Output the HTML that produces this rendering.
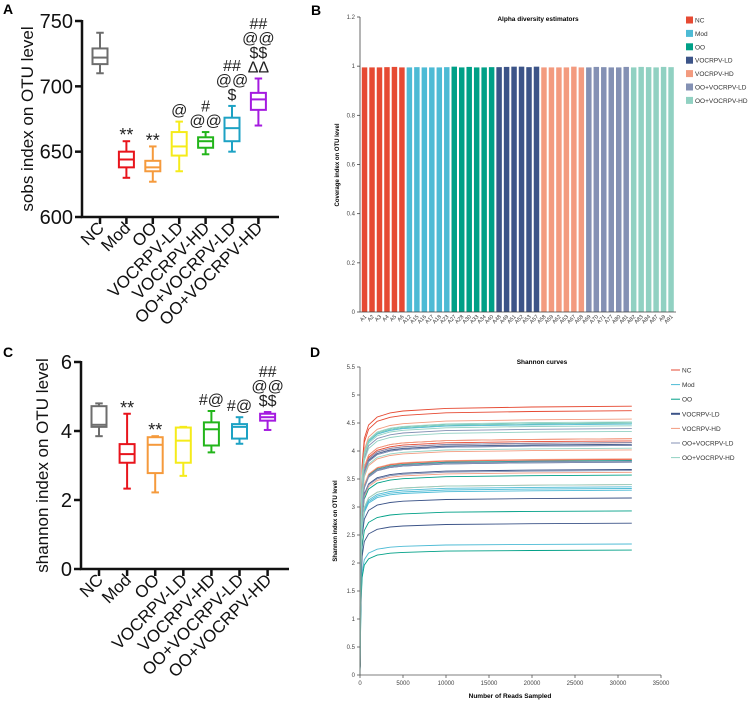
<!DOCTYPE html>
<html><head><meta charset="utf-8"><style>
html,body{margin:0;padding:0;background:#fff}
svg{display:block;font-family:"Liberation Sans",Arial,sans-serif}
</style></head><body>
<svg id="fig" width="753" height="701" viewBox="0 0 753 701" xmlns="http://www.w3.org/2000/svg">
<text x="3" y="14" font-size="14" font-weight="bold">A</text>
<text x="311" y="15" font-size="14" font-weight="bold">B</text>
<text x="3" y="357" font-size="14" font-weight="bold">C</text>
<text x="310" y="357" font-size="14" font-weight="bold">D</text>
<g id="pa"></g>
<g id="pc"></g>
<g id="pb"></g>
<g id="pd"></g>
</svg>
<script>
const groups=["NC","Mod","OO","VOCRPV-LD","VOCRPV-HD","OO+VOCRPV-LD","OO+VOCRPV-HD"];
const boxColors=["#6d6d6d","#e8141c","#f59a3c","#f5eb1a","#22b51a","#1da2c4","#a51be0"];
const sobsStats=[[710,717,722,729,741],[630,638,644,650,658],[627,635,638,643,654],[635,647,654,665,673],[648,653,658,661,665],[650,658,668,676,685],[670,682,690,695,706]];
const sobsTicks=[600,650,700,750];
const sobsAnnot=[[],["**"],["**"],["@"],["#","@@"],["##","@@","$"],["##","@@","$$","ΔΔ"]];
const shanStats=[[3.85,4.12,4.18,4.72,4.8],[2.33,3.08,3.33,3.62,4.5],[2.22,2.78,3.6,3.82,3.85],[2.7,3.08,3.72,4.1,4.12],[3.38,3.58,4.05,4.25,4.58],[3.63,3.78,4.12,4.2,4.4],[4.03,4.3,4.4,4.5,4.55]];
const shanTicks=[0,2,4,6];
const shanAnnot=[[],["**"],["**"],[],["#@"],["#@"],["##","@@","$$"]];
const legendColors=["#e64a33","#4dbbd5","#00a087","#3c5488","#f39b7f","#8491b4","#91d1c2"];
const sampleNames=["A1","A2","A3","A4","A5","A6","A12","A15","A16","A17","A18","A23","A27","A28","A30","A33","A34","A40","A48","A49","A51","A52","A53","A57","A58","A59","A62","A63","A67","A68","A69","A70","A71","A77","A80","A81","A82","A83","A84","A87","A9","A91"];
const sampleGroup=[0,0,0,0,0,0,1,1,1,1,1,1,2,2,2,2,2,2,3,3,3,3,3,3,4,4,4,4,4,4,5,5,5,5,5,5,6,6,6,6,6,6];
const coverage=[0.995,0.995,0.995,0.996,0.997,0.995,0.995,0.996,0.995,0.995,0.995,0.996,0.998,0.995,0.997,0.995,0.995,0.996,0.996,0.997,0.998,0.998,0.996,0.998,0.995,0.995,0.995,0.995,0.998,0.995,0.995,0.997,0.996,0.995,0.995,0.997,0.995,0.997,0.996,0.995,0.997,0.996];
const covTicks=[0,0.2,0.4,0.6,0.8,1,1.2];
const curveFinal=[4.8,4.72,4.22,4.18,3.85,4.15, 4.5,3.33,3.3,3.36,2.34,4.48, 3.83,3.57,2.93,2.23,3.82,4.5, 4.12,3.67,3.16,2.71,3.8,4.1, 4.57,4.22,4.02,3.62,3.4,3.86, 4.4,4.1,3.82,3.65,4.15,3.8, 4.52,4.35,4.05,4.45,3.4,4.5];
const curveGroup=[0,0,0,0,0,0,1,1,1,1,1,1,2,2,2,2,2,2,3,3,3,3,3,3,4,4,4,4,4,4,5,5,5,5,5,5,6,6,6,6,6,6];
const readsX=[0,100,250,500,1000,2000,3500,5000,10000,20000,31600];
const fracY=[0,0.55,0.78,0.88,0.93,0.96,0.975,0.982,0.992,0.997,1];
const dXTicks=[0,5000,10000,15000,20000,25000,30000,35000];
const dYTicks=[0,0.5,1,1.5,2,2.5,3,3.5,4,4.5,5,5.5];

const NS="http://www.w3.org/2000/svg";
function mk(parent,tag,attrs,txt){const e=document.createElementNS(NS,tag);for(const k in attrs)e.setAttribute(k,attrs[k]);if(txt!==undefined)e.textContent=txt;parent.appendChild(e);return e;}

function boxPanel(g,stats,ticks,annots,cfg){
  const y=v=>cfg.y0+(v-ticks[0])/(ticks[ticks.length-1]-ticks[0])*(cfg.y1-cfg.y0);
  const x=i=>cfg.x0+i*cfg.dx;
  const ax=mk(g,'path',{d:`M${cfg.ax},${cfg.y1-1}V${cfg.y0}H${cfg.axEnd}`,stroke:'#111',fill:'none','stroke-width':2.5});
  
  ticks.forEach(t=>{
    const l=mk(g,'line',{x1:cfg.ax-7,x2:cfg.ax,y1:y(t),y2:y(t),stroke:'#111','stroke-width':2.5});
    
    const tx=mk(g,'text',{x:cfg.ax-9,y:y(t)+7,'font-size':20,'text-anchor':'end',fill:'#111'},t);
    
  });
  const tt=mk(g,'text',{transform:`translate(${cfg.titleX},${(cfg.y0+cfg.y1)/2}) rotate(-90)`,'font-size':17,'text-anchor':'middle',fill:'#111'},cfg.title);
  
  stats.forEach((s,i)=>{
    const cx=x(i),c=boxColors[i],w=cfg.bw;
    const tk=mk(g,'line',{x1:cx,x2:cx,y1:cfg.y0,y2:cfg.y0+7,stroke:'#111','stroke-width':2.5});
    
    const lb=mk(g,'text',{transform:`translate(${cx+5},${cfg.y0+12}) rotate(-45)`,'font-size':17,'text-anchor':'end',fill:'#111'},groups[i]);
    
    const bx=mk(g,'g',{stroke:c,'stroke-width':2,fill:'none'});
    
    mk(bx,'line',{x1:cx,x2:cx,y1:y(s[0]),y2:y(s[1])});
    mk(bx,'line',{x1:cx,x2:cx,y1:y(s[3]),y2:y(s[4])});
    mk(bx,'line',{x1:cx-w/4,x2:cx+w/4,y1:y(s[0]),y2:y(s[0])});
    mk(bx,'line',{x1:cx-w/4,x2:cx+w/4,y1:y(s[4]),y2:y(s[4])});
    mk(bx,'rect',{x:cx-w/2,y:y(s[3]),width:w,height:y(s[1])-y(s[3])});
    mk(bx,'line',{x1:cx-w/2,x2:cx+w/2,y1:y(s[2]),y2:y(s[2])});
    const a=annots[i];
    a.forEach((str,k)=>{
      const yy=y(s[4])-6-(a.length-1-k)*cfg.lh;
      const t=mk(g,'text',{x:cx,y:yy+(str==='**'?6:0),'font-size':str==='**'?18:16,'text-anchor':'middle',fill:'#222'},str);
      
    });
  });
}
boxPanel(document.getElementById('pa'),sobsStats,sobsTicks,sobsAnnot,{x0:100,dx:26.4,y0:217,y1:21,ax:82,axEnd:279,bw:15,titleX:33,title:'sobs index on OTU level',lh:14.5});
boxPanel(document.getElementById('pc'),shanStats,shanTicks,shanAnnot,{x0:99,dx:28.1,y0:569,y1:362,ax:81,axEnd:289,bw:15,titleX:48,title:'shannon index on OTU level',lh:14.5});

(function(){
  const g=document.getElementById('pb');
  const X0=360,X1=676,Y0=312,Y1=17;
  const y=v=>Y0-(v/1.2)*(Y0-Y1);
  const step=(X1-X0-2)/sampleNames.length;
  const t=mk(g,'text',{x:538,y:21,'font-size':6.5,'font-weight':'bold','text-anchor':'middle'},'Alpha diversity estimators');
  
  const yt=mk(g,'text',{transform:`translate(339,165) rotate(-90)`,'font-size':6,'font-weight':'bold','text-anchor':'middle'},'Coverage index on OTU level');
  
  coverage.forEach((v,i)=>{
    const bx=X0+1+i*step;
    const r=mk(g,'rect',{x:bx+0.8,y:y(v),width:step-2,height:Y0-y(v),fill:legendColors[sampleGroup[i]]});
    
    const l=mk(g,'text',{transform:`translate(${bx+step/2+2},${Y0+5}) rotate(-45)`,'font-size':5.5,'text-anchor':'end',fill:'#333'},sampleNames[i]);
    
  });
  const ax=mk(g,'path',{d:`M${X0},${Y1}V${Y0}H${X1}`,stroke:'#444',fill:'none','stroke-width':0.8});
  
  covTicks.forEach(v=>{
    mk(g,'line',{x1:X0-3,x2:X0,y1:y(v),y2:y(v),stroke:'#444','stroke-width':0.8});
    const tl=mk(g,'text',{x:X0-5,y:y(v)+2,'font-size':6,'text-anchor':'end',fill:'#444'},v);
    
  });
  groups.forEach((n,i)=>{
    const ly=20+i*13.4;
    const lg=mk(g,'g',{});
    
    mk(lg,'rect',{x:686,y:ly-3.5,width:7,height:7,fill:legendColors[i]});
    mk(lg,'text',{x:695,y:ly+2.5,'font-size':6.5,fill:'#333'},n);
  });
})();

(function(){
  const g=document.getElementById('pd');
  const X0=360,X1=661,Y0=675,Y1=367;
  const x=v=>X0+v/35000*(X1-X0);
  const y=v=>Y0-v/5.5*(Y0-Y1);
  const t=mk(g,'text',{x:542,y:364,'font-size':6.5,'font-weight':'bold','text-anchor':'middle'},'Shannon curves');
  
  const yt=mk(g,'text',{transform:`translate(337,521) rotate(-90)`,'font-size':6,'font-weight':'bold','text-anchor':'middle'},'Shannon index on OTU level');
  
  const xt=mk(g,'text',{x:510,y:698,'font-size':6.5,'font-weight':'bold','text-anchor':'middle'},'Number of Reads Sampled');
  
  curveFinal.forEach((f,i)=>{
    const d=readsX.map((r,k)=>(k?'L':'M')+x(r).toFixed(1)+','+y(f*fracY[k]).toFixed(1)).join('');
    const p=mk(g,'path',{d:d,fill:'none',stroke:legendColors[curveGroup[i]],'stroke-width':0.9});
    
  });
  const ax=mk(g,'path',{d:`M${X0},${Y1}V${Y0}H${X1}`,stroke:'#555',fill:'none','stroke-width':0.8});
  
  dYTicks.forEach(v=>{
    mk(g,'line',{x1:X0-3,x2:X0,y1:y(v),y2:y(v),stroke:'#555','stroke-width':0.8});
    const tl=mk(g,'text',{x:X0-5,y:y(v)+2,'font-size':6,'text-anchor':'end',fill:'#444'},v);
    
  });
  dXTicks.forEach(v=>{
    mk(g,'line',{x1:x(v),x2:x(v),y1:Y0,y2:Y0+3,stroke:'#555','stroke-width':0.8});
    const tl=mk(g,'text',{x:x(v),y:Y0+10,'font-size':6,'text-anchor':'middle',fill:'#444'},v);
    
  });
  groups.forEach((n,i)=>{
    const ly=370+i*14.6;
    const lg=mk(g,'g',{});
    
    mk(lg,'line',{x1:671,x2:680,y1:ly,y2:ly,stroke:legendColors[i],'stroke-width':i===3?2:1});
    mk(lg,'text',{x:682,y:ly+2.5,'font-size':6.5,fill:'#333'},n);
  });
})();
</script>
</body></html>
